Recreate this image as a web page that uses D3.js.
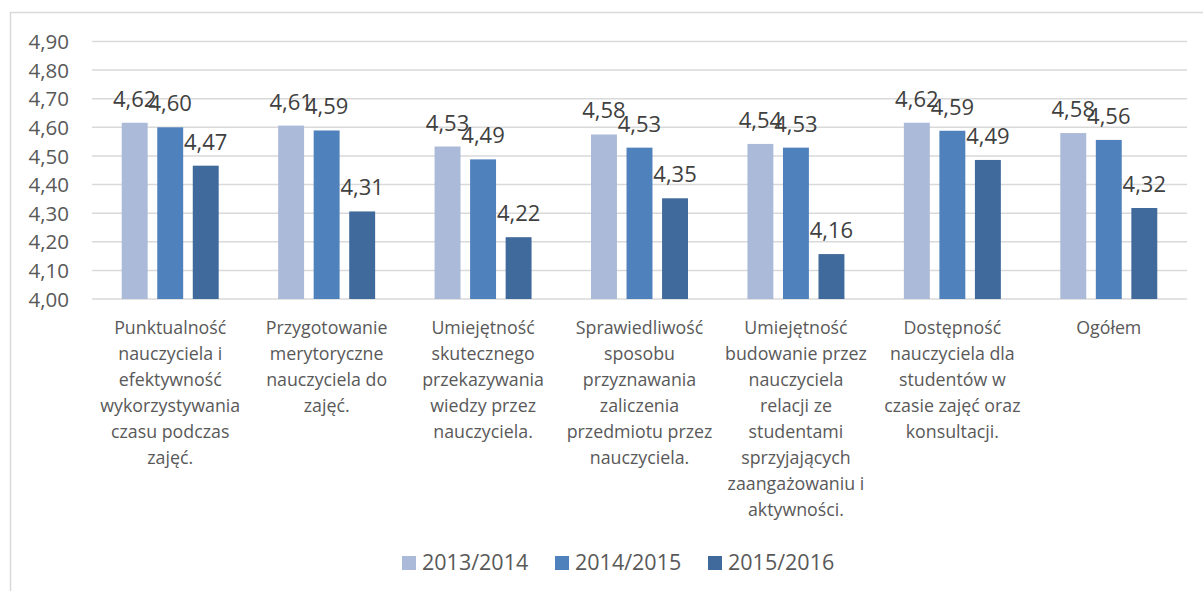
<!DOCTYPE html>
<html><head><meta charset="utf-8">
<script src="https://cdn.jsdelivr.net/npm/d3@7"></script>
<style>body{margin:0;background:#fff;}svg{display:block;}</style>
</head><body>
<svg id="c" width="1203" height="591"></svg>
<script>
const categories = [
  ["Punktualność","nauczyciela i","efektywność","wykorzystywania","czasu podczas","zajęć."],
  ["Przygotowanie","merytoryczne","nauczyciela do","zajęć."],
  ["Umiejętność","skutecznego","przekazywania","wiedzy przez","nauczyciela."],
  ["Sprawiedliwość","sposobu","przyznawania","zaliczenia","przedmiotu przez","nauczyciela."],
  ["Umiejętność","budowanie przez","nauczyciela","relacji ze","studentami","sprzyjających","zaangażowaniu i","aktywności."],
  ["Dostępność","nauczyciela dla","studentów w","czasie zajęć oraz","konsultacji."],
  ["Ogółem"]
];
const seriesNames = ["2013/2014","2014/2015","2015/2016"];
const s2013 = [4.616, 4.606, 4.533, 4.575, 4.542, 4.616, 4.580];
const s2014 = [4.600, 4.589, 4.488, 4.529, 4.529, 4.588, 4.556];
const s2015 = [4.466, 4.306, 4.216, 4.352, 4.157, 4.486, 4.318];
const yTicks = [4.0,4.1,4.2,4.3,4.4,4.5,4.6,4.7,4.8,4.9];
const colors = ["#abbad8","#4f81bd","#406a9b"];

(function(){
const series = [s2013, s2014, s2015];
const svg = d3.select("#c");
const fmt = v => (Math.round(v*100)/100).toFixed(2).replace(".", ",");

svg.append("rect").attr("x",10.5).attr("y",12.5).attr("width",1300).attr("height",700)
  .attr("fill","none").attr("stroke","#d9d9d9").attr("stroke-width",1.5);

const pL = 92, pR = 1187, pT = 41.5, pB = 299;
const y = d3.scaleLinear().domain([4.0,4.9]).range([pB, pT]);
const x0 = d3.scaleBand().domain(d3.range(categories.length)).range([pL,pR]).paddingInner(0.38).paddingOuter(0.19);
const x1 = d3.scaleBand().domain(d3.range(series.length)).range([0, x0.bandwidth()]).paddingInner(0.27);

svg.append("g").selectAll("line").data(yTicks).join("line")
  .attr("x1",pL).attr("x2",pR)
  .attr("y1",d=>y(d)).attr("y2",d=>y(d))
  .attr("stroke","#d9d9d9").attr("stroke-width",1.5);

const yAxis = svg.append("g").attr("transform",`translate(72,0)`)
  .call(d3.axisLeft(y).tickValues(yTicks).tickSize(0).tickFormat(d=>d.toFixed(2).replace(".",",")));
yAxis.select(".domain").remove();
yAxis.selectAll("text").attr("font-family","Open Sans").attr("font-size",20.5).attr("fill","#595959").attr("dy","0.35em");

const groups = svg.append("g").selectAll("g").data(categories).join("g")
  .attr("transform",(d,i)=>`translate(${x0(i)},0)`);
groups.each(function(_,ci){
  const g = d3.select(this);
  series.forEach((s,si)=>{
    g.append("rect").attr("x",x1(si)).attr("width",x1.bandwidth())
      .attr("y",y(s[ci])).attr("height",pB - y(s[ci]))
      .attr("fill",colors[si]);
  });
  series.forEach((s,si)=>{
    g.append("text").attr("x",x1(si)+x1.bandwidth()/2).attr("y",y(s[ci])-16)
      .attr("text-anchor","middle").attr("font-family","Open Sans").attr("font-size",22)
      .attr("fill","#404040").text(fmt(s[ci]));
  });
});

const xl = svg.append("g");
categories.forEach((lines,ci)=>{
  const t = xl.append("text").attr("text-anchor","middle").attr("font-family","Open Sans")
    .attr("font-size",17.8).attr("fill","#595959");
  lines.forEach((ln,li)=>{
    t.append("tspan").attr("x",x0(ci)+x0.bandwidth()/2).attr("y",334+li*26).text(ln);
  });
});

const legX = [402,555,708];
const leg = svg.append("g");
seriesNames.forEach((n,i)=>{
  leg.append("rect").attr("x",legX[i]).attr("y",556).attr("width",14).attr("height",14).attr("fill",colors[i]);
  leg.append("text").attr("x",legX[i]+20).attr("y",570).attr("font-family","Open Sans")
    .attr("font-size",21.5).attr("fill","#595959").text(n);
});
})();
</script>
</body></html>
